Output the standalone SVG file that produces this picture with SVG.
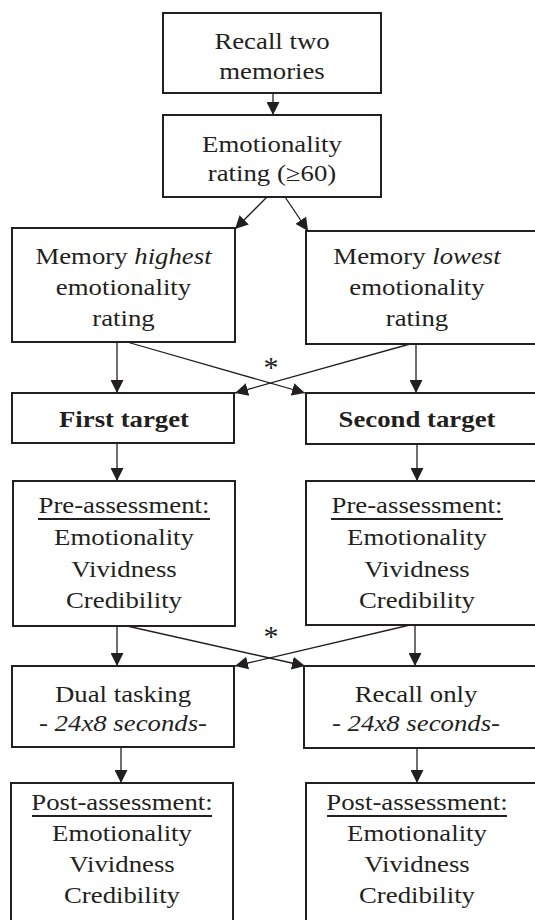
<svg xmlns="http://www.w3.org/2000/svg" width="535" height="920" viewBox="0 0 535 920">
<style>
.box{fill:#fff;stroke:#231f20;stroke-width:2}
.t{font-family:"Liberation Serif","Times New Roman",serif;font-size:22.7px;fill:#231f20;text-anchor:middle}
.b{font-weight:bold}
.ast{font-size:30px}
.ul{stroke:#231f20;stroke-width:1.8}
.c{stroke:#231f20;stroke-width:1.3;fill:none;marker-end:url(#ah)}
</style>
<defs>
<marker id="ah" viewBox="0 0 13 13" refX="13" refY="6.5" markerWidth="13" markerHeight="13" markerUnits="userSpaceOnUse" orient="auto">
<path d="M0,0 L13,6.5 L0,13 z" fill="#231f20"/>
</marker>
</defs>
<rect width="535" height="920" fill="#fff"/>

<g id="connectors">
<line class="c" x1="273" y1="93" x2="273" y2="115"/>
<line class="c" x1="267" y1="197" x2="235" y2="229"/>
<line class="c" x1="285" y1="197" x2="308" y2="231"/>
<line class="c" x1="117" y1="342" x2="117" y2="393"/>
<line class="c" x1="416" y1="344" x2="416" y2="393"/>
<line class="c" x1="127" y1="342" x2="305" y2="393"/>
<line class="c" x1="410" y1="344" x2="235" y2="393"/>
<line class="c" x1="117" y1="443" x2="117" y2="481"/>
<line class="c" x1="417" y1="444" x2="417" y2="481"/>
<line class="c" x1="117" y1="626" x2="117" y2="666"/>
<line class="c" x1="415" y1="625" x2="415" y2="666"/>
<line class="c" x1="127" y1="626" x2="305" y2="666"/>
<line class="c" x1="410" y1="625" x2="235" y2="666"/>
<line class="c" x1="121" y1="747" x2="121" y2="783"/>
<line class="c" x1="417" y1="748" x2="417" y2="783"/>
<text class="t ast" x="271" y="377">*</text>
<text class="t ast" x="271" y="646">*</text>
</g>

<g id="recall">
<rect class="box" x="163" y="13" width="218" height="80"/>
<text class="t" transform="translate(272,49) scale(1.18 1)">Recall two</text>
<text class="t" transform="translate(272,79) scale(1.18 1)">memories</text>
</g>

<g id="rating">
<rect class="box" x="163" y="115" width="218" height="82"/>
<text class="t" transform="translate(272,152) scale(1.18 1)">Emotionality</text>
<text class="t" transform="translate(272,181) scale(1.18 1)">rating (≥60)</text>
</g>

<g id="highest">
<rect class="box" x="12" y="228" width="223" height="114"/>
<text class="t" transform="translate(123.5,264) scale(1.18 1)">Memory <tspan font-style="italic">highest</tspan></text>
<text class="t" transform="translate(123.5,295) scale(1.18 1)">emotionality</text>
<text class="t" transform="translate(123.5,326) scale(1.18 1)">rating</text>
</g>

<g id="lowest">
<rect class="box" x="306" y="231" width="240" height="113"/>
<text class="t" transform="translate(417,264) scale(1.18 1)">Memory <tspan font-style="italic">lowest</tspan></text>
<text class="t" transform="translate(417,295) scale(1.18 1)">emotionality</text>
<text class="t" transform="translate(417,326) scale(1.18 1)">rating</text>
</g>

<g id="first">
<rect class="box" x="12" y="393" width="222" height="50"/>
<text class="t b" transform="translate(124,427) scale(1.18 1)">First target</text>
</g>

<g id="second">
<rect class="box" x="306" y="393" width="240" height="51"/>
<text class="t b" transform="translate(417,427) scale(1.18 1)">Second target</text>
</g>

<g id="pre1">
<rect class="box" x="13" y="481" width="222" height="145"/>
<text class="t" transform="translate(124,513) scale(1.18 1)">Pre-assessment:</text>
<line class="ul" x1="38" y1="519" x2="210" y2="519"/>
<text class="t" transform="translate(124,545) scale(1.18 1)">Emotionality</text>
<text class="t" transform="translate(124,577) scale(1.18 1)">Vividness</text>
<text class="t" transform="translate(124,608) scale(1.18 1)">Credibility</text>
</g>

<g id="pre2">
<rect class="box" x="306" y="481" width="240" height="144"/>
<text class="t" transform="translate(417,513) scale(1.18 1)">Pre-assessment:</text>
<line class="ul" x1="331" y1="519" x2="503" y2="519"/>
<text class="t" transform="translate(417,545) scale(1.18 1)">Emotionality</text>
<text class="t" transform="translate(417,577) scale(1.18 1)">Vividness</text>
<text class="t" transform="translate(417,608) scale(1.18 1)">Credibility</text>
</g>

<g id="dual">
<rect class="box" x="12" y="666" width="222" height="81"/>
<text class="t" transform="translate(123,702) scale(1.18 1)">Dual tasking</text>
<text class="t" transform="translate(123,731) scale(1.18 1)">- <tspan font-style="italic">24x8 seconds-</tspan></text>
</g>

<g id="recallonly">
<rect class="box" x="304" y="666" width="242" height="82"/>
<text class="t" transform="translate(416,702) scale(1.18 1)">Recall only</text>
<text class="t" transform="translate(416,731) scale(1.18 1)">- <tspan font-style="italic">24x8 seconds-</tspan></text>
</g>

<g id="post1">
<rect class="box" x="11" y="783" width="222" height="150"/>
<text class="t" transform="translate(122,810) scale(1.18 1)">Post-assessment:</text>
<line class="ul" x1="32" y1="816" x2="212" y2="816"/>
<text class="t" transform="translate(122,841) scale(1.18 1)">Emotionality</text>
<text class="t" transform="translate(122,872) scale(1.18 1)">Vividness</text>
<text class="t" transform="translate(122,903) scale(1.18 1)">Credibility</text>
</g>

<g id="post2">
<rect class="box" x="306" y="783" width="240" height="150"/>
<text class="t" transform="translate(417,810) scale(1.18 1)">Post-assessment:</text>
<line class="ul" x1="327" y1="816" x2="507" y2="816"/>
<text class="t" transform="translate(417,841) scale(1.18 1)">Emotionality</text>
<text class="t" transform="translate(417,872) scale(1.18 1)">Vividness</text>
<text class="t" transform="translate(417,903) scale(1.18 1)">Credibility</text>
</g>
</svg>
